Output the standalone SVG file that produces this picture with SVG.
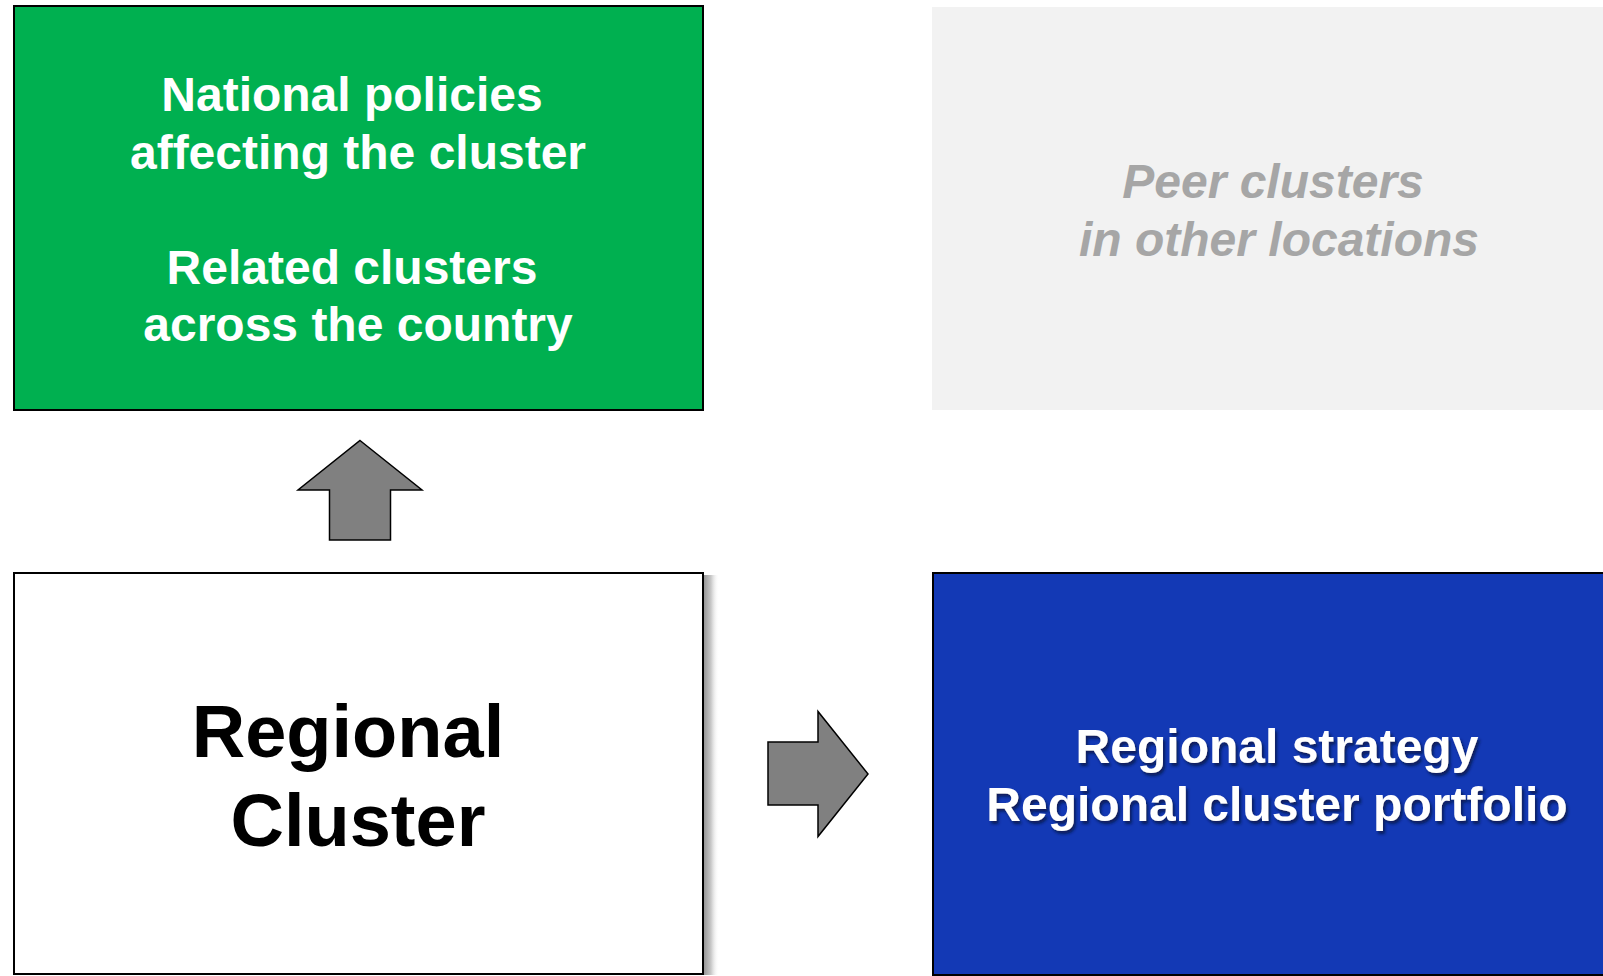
<svg xmlns="http://www.w3.org/2000/svg" width="1603" height="976" viewBox="0 0 1603 976">
  <defs>
    <style>
      .box { stroke: #000; stroke-width: 2; }
      .t48 { font-family: "Liberation Sans", Arial, sans-serif; font-weight: bold; font-size: 48px; text-anchor: middle; }
      .white { fill: #ffffff; }
      .grey { fill: #a6a6a6; font-style: italic; }
      .big { font-family: "Liberation Sans", Arial, sans-serif; font-weight: bold; font-size: 74px; text-anchor: middle; fill: #000; }
      .arrow { fill: #808080; stroke: #000; stroke-width: 1.5; stroke-linejoin: miter; }
    </style>
    <linearGradient id="shadowGrad" x1="0" y1="0" x2="1" y2="0">
      <stop offset="0" stop-color="#909090"/>
      <stop offset="0.5" stop-color="#c8c8c8"/>
      <stop offset="1" stop-color="#ffffff" stop-opacity="0"/>
    </linearGradient>
    <filter id="txtShadow" x="-10%" y="-30%" width="120%" height="160%">
      <feGaussianBlur in="SourceAlpha" stdDeviation="1.5"/>
      <feOffset dx="2" dy="3" result="b"/>
      <feFlood flood-color="#0a1a50" flood-opacity="0.9"/>
      <feComposite in2="b" operator="in" result="s"/>
      <feMerge><feMergeNode in="s"/><feMergeNode in="SourceGraphic"/></feMerge>
    </filter>
  </defs>
  <rect width="1603" height="976" fill="#ffffff"/>

  <g id="node-national">
    <rect class="box" x="14" y="6" width="689" height="404" fill="#00b050"/>
    <text class="t48 white" x="352" y="111">National policies</text>
    <text class="t48 white" x="358" y="169">affecting the cluster</text>
    <text class="t48 white" x="352" y="284">Related clusters</text>
    <text class="t48 white" x="358" y="341">across the country</text>
  </g>

  <g id="node-peer">
    <rect x="932" y="7" width="700" height="403" fill="#f2f2f2"/>
    <text class="t48 grey" x="1273" y="198">Peer clusters</text>
    <text class="t48 grey" x="1279" y="256">in other locations</text>
  </g>

  <g id="node-regional-cluster">
    <rect x="703" y="575" width="16" height="400" fill="url(#shadowGrad)"/>
    <rect class="box" x="14" y="573" width="689" height="401" fill="#ffffff"/>
    <text class="big" x="348" y="757">Regional</text>
    <text class="big" x="358" y="846">Cluster</text>
  </g>

  <g id="node-strategy">
    <rect class="box" x="933" y="573" width="700" height="402" fill="#1339b5"/>
    <g filter="url(#txtShadow)">
      <text class="t48 white" x="1277" y="763">Regional strategy</text>
      <text class="t48 white" x="1277" y="821">Regional cluster portfolio</text>
    </g>
  </g>

  <g id="connectors">
    <polygon class="arrow" points="360,440.5 422,490 390.5,490 390.5,540 329.5,540 329.5,490 298,490"/>
    <polygon class="arrow" points="868,774 818,711.5 818,742 768,742 768,805 818,805 818,836.5"/>
  </g>
</svg>
